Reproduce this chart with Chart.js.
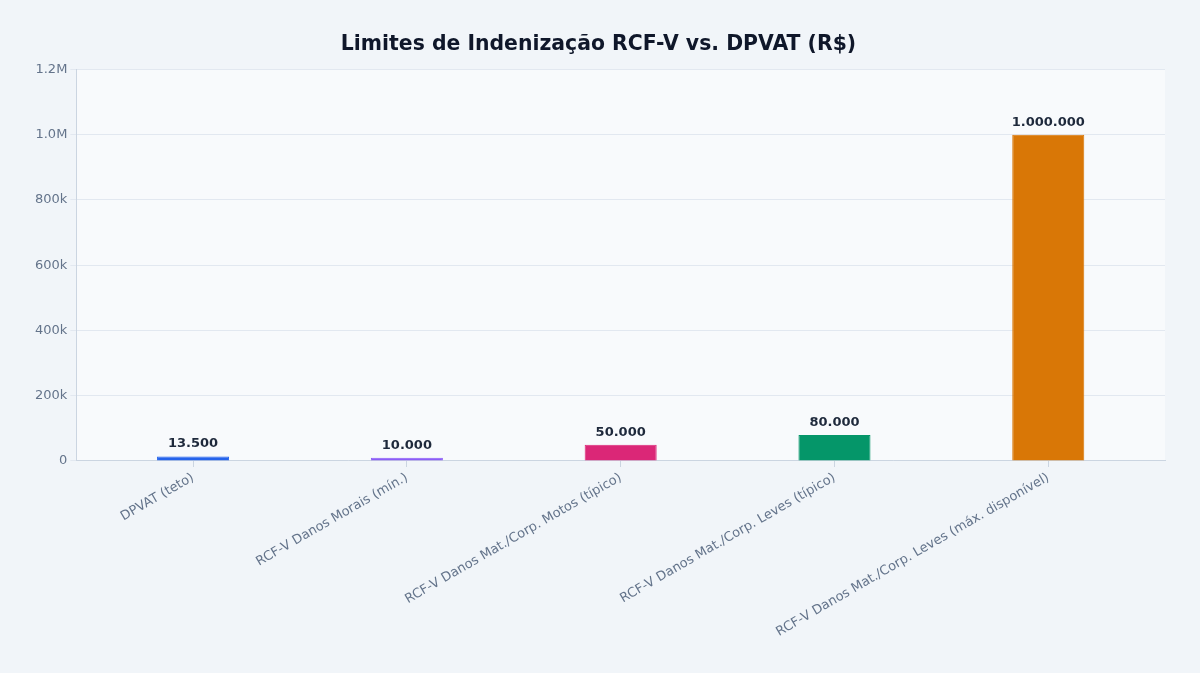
<!DOCTYPE html>
<html>
<head>
<meta charset="utf-8">
<script src="https://cdn.jsdelivr.net/npm/chart.js@4.4.0/dist/chart.umd.min.js"></script>
<style>
  html, body { margin: 0; padding: 0; background: #f1f5f9; }
  #wrap { width: 1200px; height: 673px; }
</style>
</head>
<body>
<div id="wrap"><canvas id="chart"></canvas></div>
<script>
const categories = [
  'DPVAT (teto)',
  'RCF-V Danos Morais (mín.)',
  'RCF-V Danos Mat./Corp. Motos (típico)',
  'RCF-V Danos Mat./Corp. Leves (típico)',
  'RCF-V Danos Mat./Corp. Leves (máx. disponível)'
];
const limits = [13500, 10000, 50000, 80000, 1000000];
const barColors = ['#2563eb', '#8b5cf6', '#db2777', '#059669', '#d97706'];

// fill the plot area
const areaBg = {
  id: 'areaBg',
  beforeDraw(chart) {
    const { ctx, chartArea: a } = chart;
    ctx.save();
    ctx.fillStyle = '#f8fafc';
    ctx.fillRect(a.left, a.top, a.right - a.left, a.bottom - a.top);
    ctx.restore();
  }
};

// value labels above bars
const valueLabels = {
  id: 'valueLabels',
  afterDatasetsDraw(chart) {
    const { ctx } = chart;
    const meta = chart.getDatasetMeta(0);
    ctx.save();
    ctx.font = 'bold 13px "DejaVu Sans"';
    ctx.fillStyle = '#1e293b';
    ctx.textAlign = 'center';
    ctx.textBaseline = 'bottom';
    meta.data.forEach((bar, i) => {
      ctx.fillText(limits[i].toLocaleString('pt-BR'), bar.x, bar.y - 6);
    });
    ctx.restore();
  }
};

Chart.defaults.font.family = '"DejaVu Sans", sans-serif';

new Chart(document.getElementById('chart'), {
  type: 'bar',
  data: {
    labels: categories,
    datasets: [{
      label: 'Limite (R$)',
      data: limits.map((v, i) => ({ x: i, y: v })),
      backgroundColor: barColors,
      borderColor: barColors,
      borderWidth: 1,
      barPercentage: 0.337,
      categoryPercentage: 1
    }]
  },
  options: {
    responsive: true,
    maintainAspectRatio: false,
    animation: false,
    layout: { padding: { left: 32, right: 35, top: 10, bottom: 30 } },
    plugins: {
      legend: { display: false },
      tooltip: { enabled: false },
      title: {
        display: true,
        text: 'Limites de Indenização RCF-V vs. DPVAT (R$)',
        color: '#0f172a',
        font: { size: 20.4, weight: 'bold' },
        padding: { top: 22, bottom: 13 }
      }
    },
    scales: {
      x: {
        type: 'linear',
        offset: false,
        min: -0.546,
        max: 4.546,
        afterBuildTicks: axis => { axis.ticks = categories.map((c, i) => ({ value: i })); },
        grid: { display: true, offset: false, drawOnChartArea: false, color: '#cbd5e1', tickLength: 6 },
        border: { color: '#cbd5e1' },
        ticks: {
          color: '#64748b',
          font: { size: 13 },
          maxRotation: 30,
          minRotation: 30,
          autoSkip: false,
          callback: v => categories[v]
        }
      },
      y: {
        min: 0,
        max: 1200000,
        grid: { color: '#e2e8f0', tickLength: 6 },
        border: { color: '#cbd5e1' },
        ticks: {
          stepSize: 200000,
          color: '#64748b',
          font: { size: 13 },
          callback: v => v === 0 ? '0' : v >= 1000000 ? (v / 1000000).toFixed(1) + 'M' : (v / 1000) + 'k'
        }
      }
    }
  },
  plugins: [areaBg, valueLabels]
});
</script>
</body>
</html>
